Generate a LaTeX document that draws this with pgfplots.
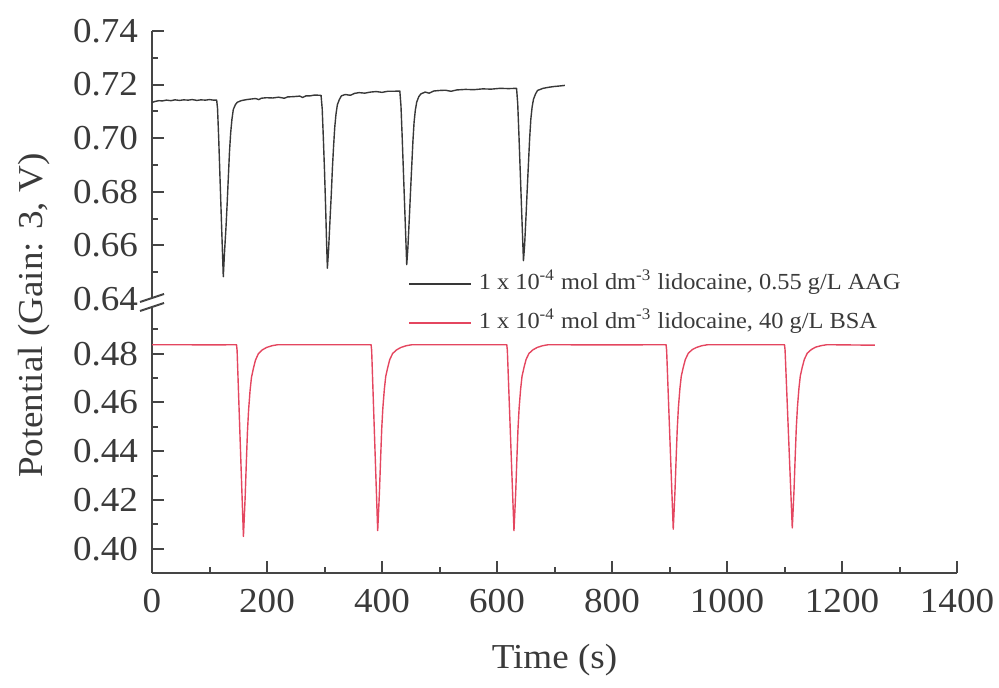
\documentclass[border=0pt]{standalone}
\usepackage{pgfplots}
\pgfplotsset{compat=1.18}
\usepackage{fontspec}
\setmainfont{Liberation Serif}[FakeStretch=1.06]

\definecolor{axisgray}{HTML}{454545}
\definecolor{textgray}{HTML}{3A3A3A}
\definecolor{aagline}{HTML}{383838}
\definecolor{bsaline}{RGB}{228,70,95}
\newcommand{\bigfont}{\fontsize{17.5}{20}\selectfont}
\newcommand{\legfont}{\fontsize{11.5}{13}\selectfont}

\pgfplotsset{
  trace/.style={
    scale only axis, width=402.5pt, height=134pt,
    xmin=0, xmax=1400,
    axis line style={-, draw=axisgray, line width=1pt},
    every tick/.style={draw=axisgray, line width=1pt},
    tick align=inside,
    major tick length=6pt, minor tick length=3pt,
    tick label style={font=\bigfont, text=textgray},
    /pgf/number format/assume math mode=true,
    scaled ticks=false,
    y tick label style={/pgf/number format/.cd, fixed, fixed zerofill, precision=2, /tikz/xshift=-3.5pt},
    x tick label style={/pgf/number format/1000 sep={}, yshift=-4.5pt},
    label style={font=\bigfont, text=textgray},
  },
  aag/.style={aagline, line width=0.7pt, line join=round},
  bsa/.style={bsaline, line width=0.7pt, line join=round},
}

\begin{document}
\begin{tikzpicture}
\useasboundingbox (-76pt,-57.5pt) rectangle (423.5pt,286.5pt);

% lower panel: BSA trace
\begin{axis}[trace, name=lower,
  axis x line*=bottom, axis y line*=left,
  ymin=0.39, ymax=0.50,
  ytick={0.40,0.42,0.44,0.46,0.48},
  minor ytick={0.39,0.41,0.43,0.45,0.47,0.49},
  xtick={0,200,400,600,800,1000,1200,1400},
  minor xtick={100,300,500,700,900,1100,1300},
  xlabel={Time (s)},
  xlabel style={at={(axis description cs:0.5,-0.3545)}, anchor=base},
  ylabel={Potential (Gain: 3, V)},
  ylabel style={at={(axis description cs:-0.147,0.96)}, anchor=center},
  legend style={at={(axis description cs:0.318,1.006)}, anchor=west,
    draw=none, fill=none, inner sep=0pt, font=\legfont, text=textgray,
    row sep=6pt, column sep=2pt,
    nodes={inner sep=1.5pt, text height=8pt, text depth=2.5pt}},
  legend cell align=left,
  legend image code/.code={\draw[#1] (0pt,0pt) -- (31pt,0pt);},
]
\addlegendimage{aag}
\addlegendentry{1 x 10\textsuperscript{-4} mol dm\textsuperscript{-3} lidocaine, 0.55 g/L AAG}
\addplot[bsa] coordinates {
(0,0.4837) (50,0.4837) (100,0.4836) (147,0.4837) (148,0.4813) (159,0.4050)
(160.5,0.4129) (162,0.4210) (164,0.4349) (166,0.4480) (168,0.4569) (170.6,0.4650)
(173,0.4703) (176.4,0.4740) (180,0.4774) (185,0.4800) (192,0.4816) (199.6,0.4826)
(209,0.4833) (219,0.4837) (300,0.4837) (381,0.4837)
(382,0.4814) (392.5,0.4074) (394,0.4150) (395.5,0.4229) (397.5,0.4364) (399.5,0.4491)
(401.5,0.4578) (404.1,0.4655) (406.5,0.4707) (409.9,0.4743) (413.5,0.4776) (418.5,0.4801)
(425.5,0.4816) (433.1,0.4826) (442.5,0.4833) (452.5,0.4837) (530,0.4837) (617,0.4837)
(618,0.4814) (629.5,0.4074) (631,0.4150) (632.5,0.4229) (634.5,0.4364) (636.5,0.4491)
(638.5,0.4578) (641.1,0.4655) (643.5,0.4707) (646.9,0.4743) (650.5,0.4776) (655.5,0.4801)
(662.5,0.4816) (670.1,0.4826) (679.5,0.4833) (689.5,0.4837) (790,0.4836) (894,0.4837)
(895,0.4814) (906.5,0.4080) (908,0.4156) (909.5,0.4234) (911.5,0.4368) (913.5,0.4493)
(915.5,0.4580) (918.1,0.4657) (920.5,0.4708) (923.9,0.4744) (927.5,0.4776) (932.5,0.4801)
(939.5,0.4817) (947.1,0.4826) (956.5,0.4833) (966.5,0.4837) (1030,0.4837) (1100,0.4837)
(1101,0.4814) (1113.5,0.4085) (1115,0.4160) (1116.5,0.4238) (1118.5,0.4371) (1120.5,0.4496)
(1122.5,0.4581) (1125.1,0.4658) (1127.5,0.4709) (1130.9,0.4745) (1134.5,0.4777) (1139.5,0.4802)
(1146.5,0.4817) (1154.1,0.4827) (1163.5,0.4833) (1173.5,0.4837) (1257,0.4835)
};
\addlegendentry{1 x 10\textsuperscript{-4} mol dm\textsuperscript{-3} lidocaine, 40 g/L BSA}
\end{axis}

% upper panel: AAG trace
\begin{axis}[trace, at={(0pt,137pt)}, anchor=south west,
  axis x line=none, axis y line*=left,
  ymin=0.64, ymax=0.74,
  ytick={0.64,0.66,0.68,0.70,0.72,0.74},
  minor ytick={0.65,0.67,0.69,0.71,0.73},
  xtick=\empty,
]
\addplot[aag] coordinates {
(0,0.7133) (5,0.7137) (12,0.7140) (18,0.7139) (25,0.7142) (33,0.7140) (40,0.7143)
(48,0.7141) (55,0.7143) (63,0.7142) (70,0.7144) (78,0.7141) (85,0.7143) (93,0.7142)
(100,0.7144) (107,0.7142) (112.5,0.7142)
(114,0.7110) (116,0.7000) (118,0.6870) (120,0.6740) (122,0.6610) (124,0.6483)
(126,0.6570) (128.7,0.6668) (130.8,0.6760) (132.8,0.6856) (134.8,0.6950) (136.8,0.7019)
(139,0.7070) (141.4,0.7107) (145,0.7125) (148.4,0.7134) (155,0.7140) (164.6,0.7144)
(172,0.7146) (180,0.7148) (186,0.7144) (190,0.7149) (199,0.7151) (210,0.7150) (220,0.7153)
(230,0.7149) (236,0.7154) (246,0.7155) (257,0.7157) (262,0.7152) (268,0.7158) (275,0.7158)
(283,0.7161) (292,0.7160)
(294,0.7160) (296,0.7110) (298,0.7000) (300,0.6880) (302,0.6740) (303.5,0.6620) (305,0.6515)
(307,0.6580) (309.7,0.6700) (311.8,0.6790) (313.8,0.6890) (315.8,0.6970) (317.8,0.7040)
(320,0.7090) (322.4,0.7125) (326,0.7145) (329.4,0.7158) (336,0.7163) (345,0.7160)
(352,0.7167) (360,0.7170) (370,0.7168) (380,0.7172) (390,0.7174) (400,0.7171) (410,0.7175)
(420,0.7175) (431,0.7176)
(433,0.7120) (435,0.7010) (437,0.6890) (439,0.6770) (441,0.6650) (443,0.6528)
(445,0.6590) (447.7,0.6710) (449.8,0.6810) (451.8,0.6900) (453.8,0.6990) (455.8,0.7060)
(458,0.7105) (460.4,0.7135) (464,0.7155) (467.4,0.7165) (475,0.7172) (482,0.7168)
(490,0.7176) (500,0.7178) (510,0.7179) (520,0.7175) (530,0.7180) (545,0.7182) (560,0.7181)
(575,0.7184) (590,0.7183) (605,0.7186) (620,0.7185) (634,0.7186)
(636,0.7130) (638,0.7020) (640,0.6900) (642,0.6780) (644,0.6660) (646,0.6543)
(648,0.6600) (650.7,0.6720) (652.8,0.6820) (654.8,0.6910) (656.8,0.7000) (658.8,0.7070)
(661,0.7115) (663.4,0.7145) (667,0.7165) (670.4,0.7178) (680,0.7186) (690,0.7190)
(700,0.7193) (710,0.7195) (718,0.7197)
};
\end{axis}

% axis break marks on the y axis
\fill[white] (-6pt,131pt) -- (6pt,135pt) -- (6pt,139.5pt) -- (-6pt,135.5pt) -- cycle;
\draw[axisgray, line width=1pt] (-6pt,135.5pt) -- (6pt,139.5pt);
\draw[axisgray, line width=1pt] (-6pt,131pt) -- (6pt,135pt);
\end{tikzpicture}
\end{document}
